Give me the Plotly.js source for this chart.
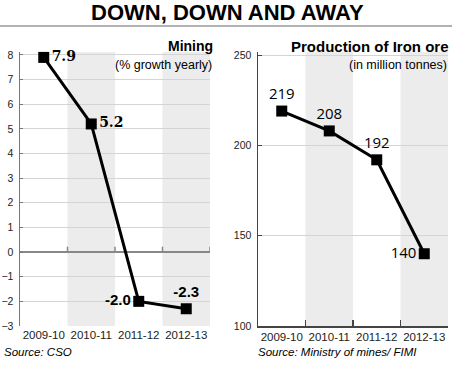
<!DOCTYPE html>
<html>
<head>
<meta charset="utf-8">
<script src="https://cdn.plot.ly/plotly-3.0.1.min.js"></script>
<style>html,body{margin:0;padding:0;background:#fff}#chart{width:457px;height:365px}</style>
</head>
<body>
<div id="chart"></div>
<script>
var years = ['2009-10', '2010-11', '2011-12', '2012-13'];
var miningGrowth = [7.9, 5.2, -2.0, -2.3];
var ironOre = [219, 208, 192, 140];
var miningTicks = [-3, -2, -1, 0, 1, 2, 3, 4, 5, 6, 7, 8];
var ironTicks = [100, 150, 200, 250];

var W = 457, H = 365;
function px(x) { return x / W; }
function py(y) { return 1 - y / H; }

var narrow = 'Liberation Sans Narrow, Arial Narrow, sans-serif';

var traces = [
  {
    x: years, y: miningGrowth, xaxis: 'x', yaxis: 'y',
    type: 'scatter', mode: 'lines+markers+text',
    line: {color: '#000', width: 3},
    marker: {symbol: 'square', size: 11, color: '#000'},
    text: miningGrowth.map(function (v) { return v.toFixed(1); }),
    textposition: ['middle right', 'middle right', 'middle left', 'top center'],
    textfont: {family: ['DejaVu Serif', 'DejaVu Serif', 'Liberation Sans', 'Liberation Sans'], size: [14, 14, 15, 15], color: '#000', weight: 'bold'},
    cliponaxis: false, hoverinfo: 'none'
  },
  {
    x: years, y: ironOre, xaxis: 'x2', yaxis: 'y2',
    type: 'scatter', mode: 'lines+markers+text',
    line: {color: '#000', width: 3},
    marker: {symbol: 'square', size: 11, color: '#000'},
    text: ironOre.map(String),
    textposition: ['top center', 'top center', 'top center', 'middle left'],
    textfont: {family: 'Open Sans, sans-serif', size: 15, color: '#000'},
    cliponaxis: false, hoverinfo: 'none'
  }
];

var shapes = [];
years.forEach(function (c, i) {
  if (i % 2 === 1) {
    shapes.push({type: 'rect', layer: 'below', xref: 'x', yref: 'y domain', x0: i - 0.5, x1: i + 0.5, y0: 0, y1: 1, fillcolor: '#ececec', line: {width: 0}});
    shapes.push({type: 'rect', layer: 'below', xref: 'x2', yref: 'y2 domain', x0: i - 0.5, x1: i + 0.5, y0: 0, y1: 1, fillcolor: '#ececec', line: {width: 0}});
  }
  shapes.push({type: 'line', xref: 'x', yref: 'y', x0: i + 0.5, x1: i + 0.5, y0: 0, y1: 0.22, line: {color: '#888', width: 1.5}});
});
shapes.push({type: 'line', xref: 'paper', yref: 'paper', x0: 0, x1: px(452), y0: py(26), y1: py(26), line: {color: '#999', width: 1.5}});

var yDom = [py(326), py(52)];

var layout = {
  width: W, height: H,
  margin: {l: 0, r: 0, t: 0, b: 0},
  paper_bgcolor: '#fff', plot_bgcolor: 'rgba(0,0,0,0)',
  showlegend: false,
  font: {family: narrow, color: '#222'},
  xaxis: {
    domain: [px(20), px(210)], type: 'category', range: [-0.5, 3.5],
    showline: false, ticks: '', showgrid: false, zeroline: false, tickangle: 0,
    tickfont: {family: narrow, size: 11.5, color: '#222'}, anchor: 'y', fixedrange: true
  },
  yaxis: {
    domain: yDom, range: [-3, 8.12], tickvals: miningTicks,
    showgrid: true, gridcolor: '#d4d4d4', gridwidth: 1,
    zeroline: true, zerolinecolor: '#888', zerolinewidth: 1.5,
    showline: true, linecolor: '#777', linewidth: 1.5,
    ticks: 'inside', ticklen: 3, tickcolor: '#777',
    ticklabelstandoff: 3,
    tickfont: {family: narrow, size: 10.5, color: '#222'}, anchor: 'x', fixedrange: true
  },
  xaxis2: {
    domain: [px(258), px(448)], type: 'category', range: [-0.5, 3.5],
    showline: true, linecolor: '#444', linewidth: 1.5, tickangle: 0,
    ticks: 'inside', tickson: 'boundaries', ticklen: 6, tickcolor: '#444', tickwidth: 1.5,
    showgrid: false, zeroline: false,
    tickfont: {family: narrow, size: 11.5, color: '#222'}, anchor: 'y2', fixedrange: true
  },
  yaxis2: {
    domain: yDom, range: [100, 251.7], tickvals: ironTicks,
    showgrid: true, gridcolor: '#d4d4d4', gridwidth: 1, zeroline: false,
    showline: true, linecolor: '#444', linewidth: 1.5,
    ticks: 'inside', ticklen: 4, tickcolor: '#444',
    ticklabelstandoff: 3,
    tickfont: {family: narrow, size: 10.5, color: '#222'}, anchor: 'x2', fixedrange: true
  },
  shapes: shapes,
  annotations: [
    {text: 'DOWN, DOWN AND AWAY', xref: 'paper', yref: 'paper', x: px(227), y: py(13), xanchor: 'center', yanchor: 'middle', showarrow: false,
     font: {family: 'Liberation Sans, Arial, sans-serif', size: 22, weight: 'bold', color: '#000'}},
    {text: 'Mining', xref: 'paper', yref: 'paper', x: px(215), y: py(46), xanchor: 'right', yanchor: 'middle', showarrow: false,
     font: {family: 'Liberation Sans, Arial, sans-serif', size: 14, weight: 'bold', color: '#000'}},
    {text: '(% growth yearly)', xref: 'paper', yref: 'paper', x: px(214), y: py(65), xanchor: 'right', yanchor: 'middle', showarrow: false,
     font: {family: narrow, size: 12.5, color: '#000'}},
    {text: 'Production of Iron ore', xref: 'paper', yref: 'paper', x: px(451), y: py(46), xanchor: 'right', yanchor: 'middle', showarrow: false,
     font: {family: narrow, size: 15, weight: 'bold', color: '#000'}},
    {text: '(in million tonnes)', xref: 'paper', yref: 'paper', x: px(449), y: py(65), xanchor: 'right', yanchor: 'middle', showarrow: false,
     font: {family: narrow, size: 12.5, color: '#000'}},
    {text: '<i>Source: CSO</i>', xref: 'paper', yref: 'paper', x: px(2), y: py(352), xanchor: 'left', yanchor: 'middle', showarrow: false,
     font: {family: narrow, size: 11.5, color: '#000'}},
    {text: '<i>Source: Ministry of mines/ FIMI</i>', xref: 'paper', yref: 'paper', x: px(256), y: py(352), xanchor: 'left', yanchor: 'middle', showarrow: false,
     font: {family: narrow, size: 11.5, color: '#000'}}
  ]
};

Plotly.newPlot('chart', traces, layout, {staticPlot: true, displayModeBar: false});
</script>
</body>
</html>
